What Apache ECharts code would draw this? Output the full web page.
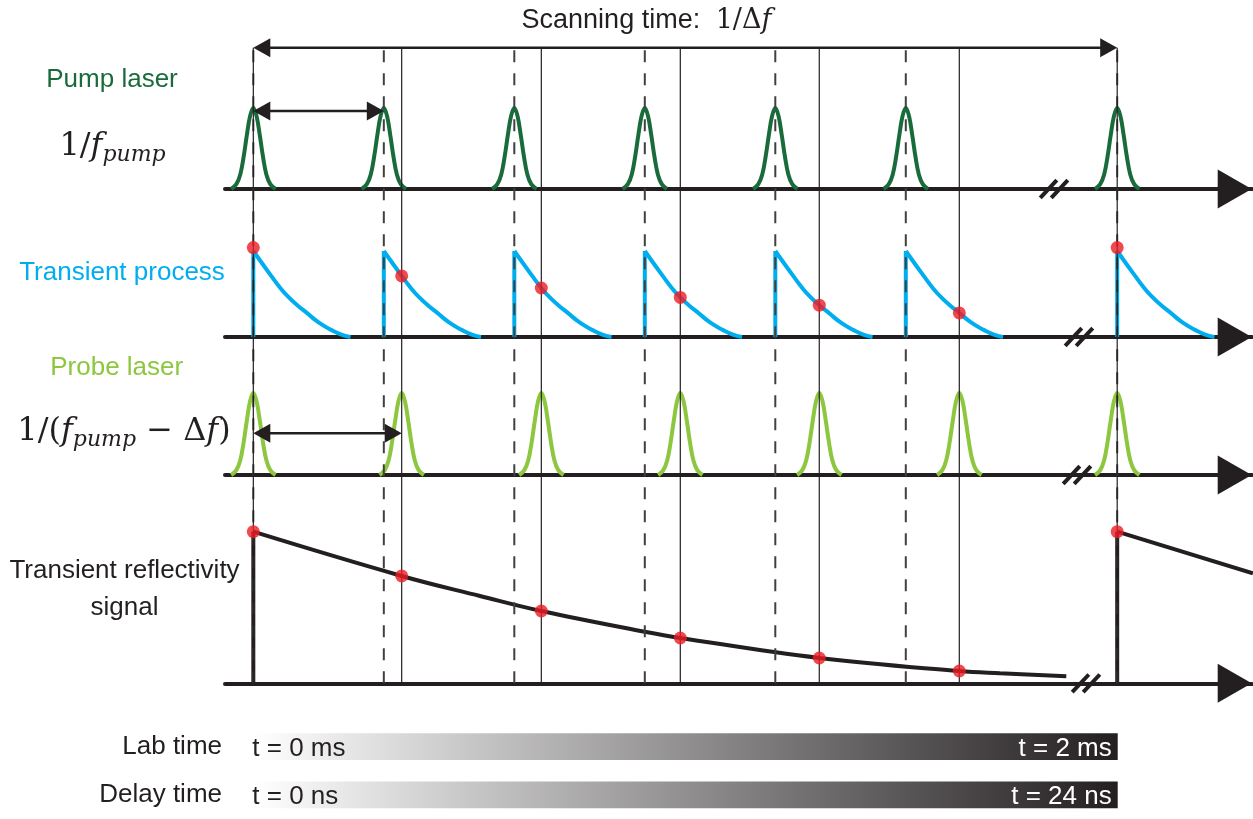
<!DOCTYPE html>
<html><head><meta charset="utf-8">
<script src="https://cdn.jsdelivr.net/npm/echarts@6/dist/echarts.min.js"></script>
<style>html,body{margin:0;padding:0;background:#fff}#c{width:1253px;height:819px}</style>
</head><body><div id="c"></div>
<script>
// ---------------- data (time unit = one pump period) ----------------
const pumpTimes  = [0, 1, 2, 3, 4, 5, 6.62];
const probeTimes = [0, 1.137, 2.207, 3.272, 4.337, 5.41, 6.62];
// laser pulse profile: [offset from pulse centre, relative height]
const pulseShape = [[-0.17,0],[-0.13,0.06],[-0.1,0.18],[-0.075,0.39],[-0.05,0.66],[-0.025,0.9],[0,1],
                    [0.025,0.9],[0.05,0.66],[0.075,0.39],[0.1,0.18],[0.13,0.06],[0.17,0]];
// transient process decay after each pump pulse: [offset, relative height]
const decayShape = [[0,1],[0.137,0.71],[0.207,0.57],[0.272,0.46],[0.337,0.37],[0.41,0.28],[0.5,0.17],[0.6,0.08],[0.68,0.025],[0.745,0]];
const transientDots = [1.04, 0.71, 0.57, 0.46, 0.37, 0.28, 1.04];
// transient reflectivity signal
const signalCurve  = [[0,1],[1.137,0.708],[1.737,0.576],[2.207,0.477],[3.0,0.34],[3.272,0.299],[4.337,0.167],[5.41,0.081],[5.722,0.066],[6.23,0.046]];
const signalCurve2 = [[6.62,1],[7.66,0.726]];
const signalDots   = [1, 0.708, 0.477, 0.299, 0.167, 0.081, 1];
// axis breaks (//)
const breakPump = 6.136, breakTransient = 6.327, breakProbe = 6.312, breakSignal = 6.381;
// double arrows: [from, to, level]
const scanArrow  = [0, 6.62, 1];
const pumpArrow  = [0, 1, 0.963];
const probeArrow = [0, 1.137, 0.509];
// bottom bars
const barRows   = ['Lab time', 'Delay time'];
const barSpan   = [0, 6.624];
const barStart  = ['t = 0 ms', 't = 0 ns'];
const barEnd    = ['t = 2 ms', 't = 24 ns'];

// ---------------- style ----------------
const INK = '#231f20', PUMP = '#1a6b3c', CYAN = '#00aeef', PROBE = '#8dc63f', RED = '#ed1c24';
const XMIN = -0.217, XMAX = 7.653;
function fontAvailable(name){
  const ctx = document.createElement('canvas').getContext('2d');
  const s = 'Transient reflectivity Wg';
  ctx.font = '40px monospace'; const a = ctx.measureText(s).width;
  ctx.font = '40px "' + name + '", monospace'; return ctx.measureText(s).width !== a;
}
const NARROW = fontAvailable('Liberation Sans Narrow');
const LFAM = NARROW ? 'Liberation Sans Narrow' : 'Liberation Sans';
const LSIZE = NARROW ? 31 : 26;
const SANS = 'Liberation Sans', SERIF = 'DejaVu Serif';

const gridPos = [
  {top: 47.7,  bottom: 135.7}, // 0 guides + scanning arrow
  {top: 108,   bottom: 630},   // 1 pump
  {top: 251,   bottom: 482},   // 2 transient
  {top: 393,   bottom: 344},   // 3 probe
  {top: 531.7, bottom: 135.7}, // 4 signal
  {top: 722.5, bottom: 0}      // 5 bars
];
const grid = gridPos.map(g => Object.assign({left: 225, right: 1, containLabel: false, outerBoundsMode: 'none', show: false}, g));
const xAxis = gridPos.map((g, i) => ({
  type: 'value', gridIndex: i, min: XMIN, max: XMAX, show: i >= 1 && i <= 4,
  axisLine: {show: true, onZero: false, symbol: ['none', 'triangle'], symbolSize: [39, 34], symbolOffset: [0, -17.3],
    lineStyle: {color: INK, width: 4}},
  axisTick: {show: false}, axisLabel: {show: false}, splitLine: {show: false}
}));
const yAxis = gridPos.map((g, i) => i < 5 ? {type: 'value', gridIndex: i, min: 0, max: 1, show: false} : {
  type: 'category', gridIndex: i, data: barRows, inverse: true,
  axisLine: {show: false}, axisTick: {show: false}, splitLine: {show: false},
  axisLabel: {color: INK, fontSize: 26, fontFamily: SANS, margin: 3}
});

const series = [];
function line(g, data, color, width, extra) {
  return Object.assign({type: 'line', xAxisIndex: g, yAxisIndex: g, data: data, showSymbol: false, symbol: 'none',
    clip: false, silent: true, z: 2, lineStyle: {color: color, width: width}}, extra || {});
}
pumpTimes.forEach(t => series.push(line(1, pulseShape.map(p => [t + p[0], p[1]]), PUMP, 4, {smooth: 0.4})));
pumpTimes.forEach(t => {
  series.push(line(2, [[t, 0], [t, 1]], CYAN, 4));
  series.push(line(2, decayShape.map(p => [t + p[0], p[1]]), CYAN, 4, {smooth: 0.5}));
});
probeTimes.forEach(t => series.push(line(3, pulseShape.map(p => [t + p[0], p[1]]), PROBE, 4, {smooth: 0.4})));
series.push(line(4, signalCurve, INK, 4, {smooth: 0.4}));
series.push(line(4, signalCurve2, INK, 4));
[pumpTimes[0], pumpTimes[pumpTimes.length - 1]].forEach(t => series.push(line(4, [[t, 0], [t, 1]], INK, 4)));
// guide lines
pumpTimes.forEach(t => series.push(line(0, [[t, 0], [t, 1]], '#404040', 2, {z: 3, lineStyle: {color: '#404040', width: 2, type: [12, 11]}})));
probeTimes.forEach(t => series.push(line(0, [[t, 0], [t, 1]], INK, 1.2, {z: 3})));
// red sampling dots
series.push({type: 'scatter', xAxisIndex: 2, yAxisIndex: 2, clip: false, silent: true, z: 5, symbolSize: 13,
  itemStyle: {color: RED}, data: probeTimes.map((t, i) => [t, transientDots[i]])});
series.push({type: 'scatter', xAxisIndex: 4, yAxisIndex: 4, clip: false, silent: true, z: 5, symbolSize: 13,
  itemStyle: {color: RED}, data: probeTimes.map((t, i) => [t, signalDots[i]])});
// double arrows
function arrow(g, a) {
  return {type: 'custom', xAxisIndex: g, yAxisIndex: g, data: [a], clip: false, silent: true, z: 4,
    renderItem: function (params, api) {
      const p = api.coord([api.value(0), api.value(2)]), q = api.coord([api.value(1), api.value(2)]);
      const hl = 17, hw = 9.5;
      return {type: 'group', children: [
        {type: 'line', shape: {x1: p[0] + hl - 2, y1: p[1], x2: q[0] - hl + 2, y2: q[1]}, style: {stroke: INK, lineWidth: 2.5}},
        {type: 'polygon', shape: {points: [[p[0], p[1]], [p[0] + hl, p[1] - hw], [p[0] + hl, p[1] + hw]]}, style: {fill: INK}},
        {type: 'polygon', shape: {points: [[q[0], q[1]], [q[0] - hl, q[1] - hw], [q[0] - hl, q[1] + hw]]}, style: {fill: INK}}
      ]};
    }};
}
series.push(arrow(0, scanArrow), arrow(1, pumpArrow), arrow(3, probeArrow));
// axis break marks
function brk(g, x) {
  return {type: 'custom', xAxisIndex: g, yAxisIndex: g, data: [[x, 0]], clip: false, silent: true, z: 4,
    renderItem: function (params, api) {
      const c = api.coord([api.value(0), api.value(1)]);
      return {type: 'group', children: [-5.5, 5.5].map(d => ({type: 'line',
        shape: {x1: c[0] + d - 8.3, y1: c[1] + 8.8, x2: c[0] + d + 8.3, y2: c[1] - 8.8}, style: {stroke: INK, lineWidth: 4}}))};
    }};
}
series.push(brk(1, breakPump), brk(2, breakTransient), brk(3, breakProbe), brk(4, breakSignal));
// gradient bars
series.push({type: 'custom', xAxisIndex: 5, yAxisIndex: 5, clip: false, silent: true, z: 2,
  encode: {x: [0, 1], y: 2},
  data: barRows.map((r, i) => [barSpan[0], barSpan[1], i]),
  renderItem: function (params, api) {
    const i = params.dataIndex;
    const p = api.coord([api.value(0), api.value(2)]), q = api.coord([api.value(1), api.value(2)]);
    const h = 26.7;
    return {type: 'group', children: [
      {type: 'rect', shape: {x: p[0], y: p[1] - h / 2, width: q[0] - p[0], height: h},
        style: {fill: new echarts.graphic.LinearGradient(0, 0, 1, 0, [{offset: 0, color: '#ffffff'}, {offset: 1, color: '#231f20'}])}},
      {type: 'text', style: {text: barStart[i], x: p[0] - 1, y: p[1] + 2, fill: INK, fontSize: 26, fontFamily: SANS,
        align: 'left', verticalAlign: 'middle', textAlign: 'left', textVerticalAlign: 'middle'}},
      {type: 'text', style: {text: barEnd[i], x: q[0] - 6, y: p[1] + 2, fill: '#ffffff', fontSize: 26, fontFamily: SANS,
        align: 'right', verticalAlign: 'middle', textAlign: 'right', textVerticalAlign: 'middle'}}
    ]};
  }});

// ---------------- text annotations ----------------
function label(text, x, y, color, extra) {
  return {type: 'text', x: x, y: y, silent: true, style: Object.assign({text: text, fill: color,
    fontFamily: LFAM, fontSize: LSIZE, align: 'center', verticalAlign: 'middle', textAlign: 'center', textVerticalAlign: 'middle'}, extra || {})};
}
const mathRich = {
  n: {fontFamily: SERIF, fontSize: 32, lineHeight: 38, fill: INK, color: INK},
  f: {fontFamily: SERIF, fontStyle: 'italic', fontSize: 32, lineHeight: 38, fill: INK, color: INK},
  s: {fontFamily: SERIF, fontStyle: 'italic', fontSize: 22, lineHeight: 24, verticalAlign: 'bottom', fill: INK, color: INK}
};
const graphic = [
  label('Pump laser', 112, 80, PUMP),
  label('Transient process', 122, 272.5, CYAN),
  label('Probe laser', 116.7, 368, PROBE),
  label('Transient reflectivity\nsignal', 124.5, 589, INK, {lineHeight: 37}),
  label('{n|1/}{f|f}{s|pump}', 112.5, 147, INK, {rich: mathRich}),
  label('{n|1/(}{f|f}{s|pump}{n| − Δ}{f|f}{n|)}', 124, 432, INK, {rich: mathRich}),
  label('{a|Scanning time: }{n|1/Δ}{f|f}', 646.5, 21, INK, {rich: {
    a: {fontFamily: SANS, fontSize: 27, lineHeight: 32, fill: INK, color: INK, padding: [0, 8, 0, 0]},
    n: {fontFamily: SERIF, fontSize: 27, lineHeight: 32, fill: INK, color: INK},
    f: {fontFamily: SERIF, fontStyle: 'italic', fontSize: 27, lineHeight: 32, fill: INK, color: INK}
  }})
];

const chart = echarts.init(document.getElementById('c'), null, {renderer: 'canvas'});
chart.setOption({animation: false, backgroundColor: '#ffffff', grid: grid, xAxis: xAxis, yAxis: yAxis, series: series, graphic: graphic});
</script>
</body></html>
